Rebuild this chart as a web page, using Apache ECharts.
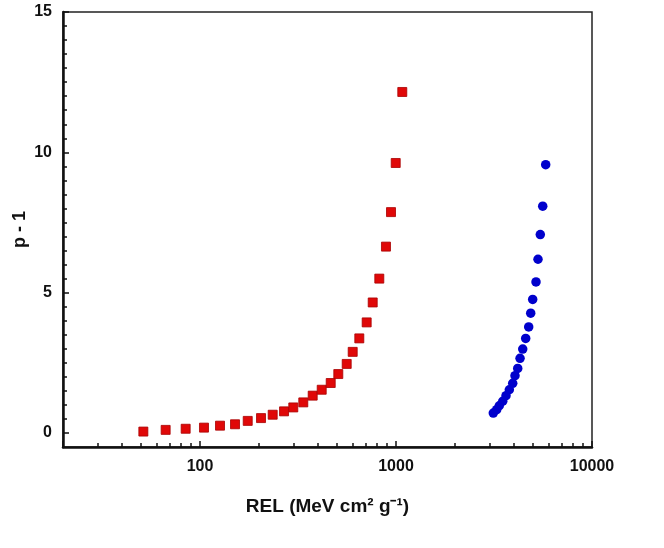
<!DOCTYPE html>
<html>
<head>
<meta charset="utf-8">
<script src="https://cdn.jsdelivr.net/npm/echarts@6/dist/echarts.min.js"></script>
<style>
  html, body { margin: 0; padding: 0; background: #fff; }
  #chart { width: 664px; height: 548px; }
</style>
</head>
<body>
<div id="chart"></div>
<script>
// red squares (lower REL curve)
var redRel = [51.4, 66.8, 84.5, 104.8, 126.5, 150.9, 175.2, 204.8, 234.9, 268.4, 299.2, 336.5, 375.8,
              417.8, 464.4, 507.7, 560.4, 601.3, 649.8, 708.6, 760.6, 821.9, 889.0, 943.0, 996.6, 1076.7];
var redVal = [0.05, 0.11, 0.15, 0.19, 0.26, 0.31, 0.43, 0.53, 0.65, 0.77, 0.91, 1.09, 1.33,
              1.54, 1.78, 2.10, 2.46, 2.89, 3.37, 3.94, 4.65, 5.50, 6.64, 7.87, 9.62, 12.15];
// blue circles (higher REL curve)
var blueRel = [3136, 3264, 3365, 3504, 3642, 3786, 3940, 4048, 4179, 4294, 4432, 4589, 4754,
               4867, 4982, 5180, 5303, 5448, 5605, 5805];
var blueVal = [0.71, 0.83, 0.97, 1.13, 1.33, 1.54, 1.77, 2.04, 2.30, 2.66, 2.99, 3.37, 3.78,
               4.27, 4.76, 5.38, 6.19, 7.07, 8.08, 9.56];

var yMajorTicks = [0, 5, 10, 15];
var yMinorTicks = [0.5, 1, 1.5, 2, 2.5, 3, 3.5, 4, 4.5, 5.5, 6, 6.5, 7, 7.5, 8, 8.5, 9, 9.5,
                   10.5, 11, 11.5, 12, 12.5, 13, 13.5, 14, 14.5];
var xMajorTicks = [100, 1000, 10000];
var xMinorTicks = [30, 40, 50, 60, 70, 80, 90, 200, 300, 400, 500, 600, 700, 800, 900,
                   2000, 3000, 4000, 5000, 6000, 7000, 8000, 9000];

function pairs(xs, ys) {
    return xs.map(function (x, i) { return [x, ys[i]]; });
}

var labelFont = { color: '#111', fontWeight: 'bold', fontSize: 16, fontFamily: 'Liberation Sans' };

var chart = echarts.init(document.getElementById('chart'));
chart.setOption({
    animation: false,
    grid: {
        left: 63, top: 12, right: 72, bottom: 101,
        outerBoundsMode: 'none',
        show: true, borderColor: '#222', borderWidth: 1.5
    },
    xAxis: [{
        type: 'log', min: 20, max: 10000, logBase: 10,
        name: 'REL (MeV cm² g⁻¹)', nameLocation: 'middle', nameGap: 50,
        nameTextStyle: { color: '#111', fontWeight: 'bold', fontSize: 19, fontFamily: 'Liberation Sans' },
        axisLine: { onZero: false, lineStyle: { color: '#111', width: 2.5 } },
        axisTick: { inside: true, length: 6, lineStyle: { color: '#111', width: 1.5 } },
        axisLabel: Object.assign({
            margin: 12,
            formatter: function (v) { return xMajorTicks.indexOf(Math.round(v)) >= 0 ? String(Math.round(v)) : ''; }
        }, labelFont),
        splitLine: { show: false }
    }, {
        type: 'log', min: 20, max: 10000, logBase: 10, position: 'bottom',
        axisLine: { show: false, onZero: false },
        axisTick: { inside: true, length: 4, customValues: xMinorTicks, lineStyle: { color: '#111', width: 1.5 } },
        axisLabel: { show: false },
        splitLine: { show: false }
    }],
    yAxis: [{
        type: 'value', min: -0.5, max: 15,
        name: 'p - 1', nameLocation: 'middle', nameGap: 34, nameRotate: 90, nameMoveOverlap: false,
        nameTextStyle: { color: '#111', fontWeight: 'bold', fontSize: 18, fontFamily: 'Liberation Sans' },
        axisLine: { show: true, onZero: false, lineStyle: { color: '#111', width: 2.5 } },
        axisTick: { show: true, inside: true, length: 6, customValues: yMajorTicks, lineStyle: { color: '#111', width: 1.5 } },
        axisLabel: Object.assign({ margin: 11, customValues: yMajorTicks }, labelFont),
        splitLine: { show: false }
    }, {
        type: 'value', min: -0.5, max: 15, position: 'left',
        axisLine: { show: false, onZero: false },
        axisTick: { show: true, inside: true, length: 4, customValues: yMinorTicks, lineStyle: { color: '#111', width: 1.5 } },
        axisLabel: { show: false },
        splitLine: { show: false }
    }],
    series: [{
        type: 'scatter',
        data: pairs(redRel, redVal),
        symbol: 'rect',
        symbolSize: 9,
        itemStyle: { color: '#e00808', borderColor: '#a80000', borderWidth: 0.8, opacity: 1 }
    }, {
        type: 'scatter',
        data: pairs(blueRel, blueVal),
        symbol: 'circle',
        symbolSize: 9.5,
        itemStyle: { color: '#0000cc', opacity: 1 }
    }]
});
</script>
</body>
</html>
